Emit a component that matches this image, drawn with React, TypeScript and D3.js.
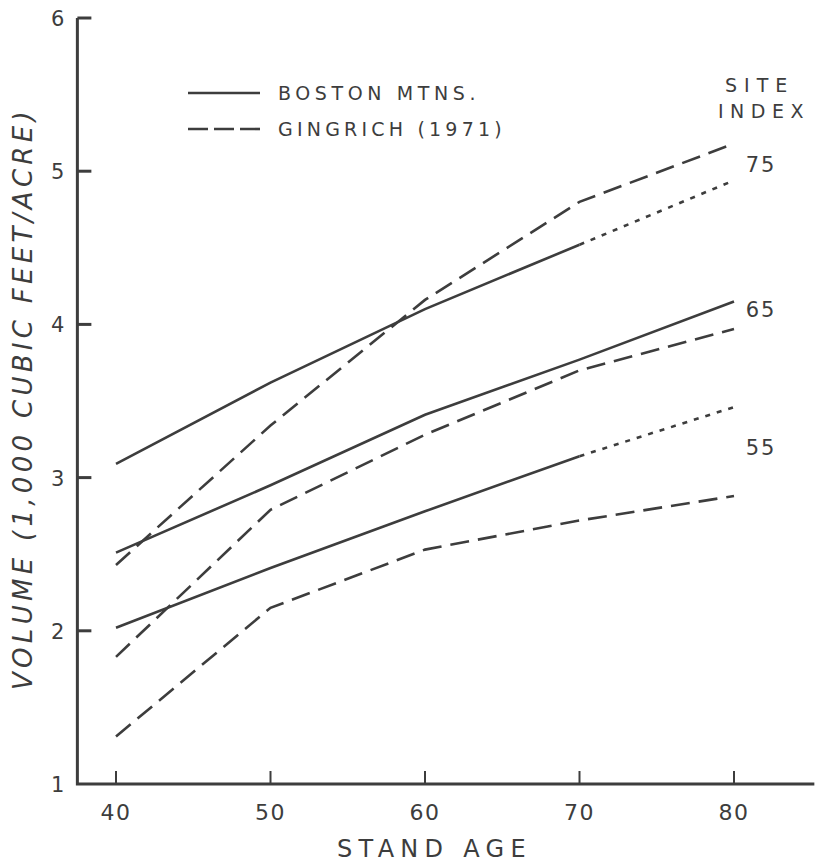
import React from 'react';
import * as d3 from 'd3';

// stand age (years)
const ages = [40, 50, 60, 70, 80];
const siteIndexes = ['75', '65', '55'];

// volume, thousand cubic feet per acre
const boston75 = [3.09, 3.62, 4.10, 4.52, 4.94];
const boston65 = [2.51, 2.95, 3.41, 3.77, 4.15];
const boston55 = [2.02, 2.41, 2.78, 3.14, 3.46];
const gingrich75 = [2.43, 3.34, 4.16, 4.80, 5.18];
const gingrich65 = [1.83, 2.79, 3.28, 3.70, 3.97];
const gingrich55 = [1.31, 2.15, 2.53, 2.72, 2.88];

// boston curves go dotted past this age (extrapolated)
const bostonDottedFrom = [70, null, 70];

const yTicks = [1, 2, 3, 4, 5, 6];
const siteLabelValues = [5.05, 4.1, 3.2];

const INK = '#3d3d3d';
const FONT = '"DejaVu Sans", "Liberation Sans", sans-serif';

const width = 820, height = 863;

export default function App() {
  const x = d3.scaleLinear().domain([40, 80]).range([116, 734]);
  const y = d3.scaleLinear().domain([1, 6]).range([784, 18]);

  const line = d3.line<[number, number]>()
    .x(d => x(d[0]))
    .y(d => y(d[1]));

  const pts = (vals: number[]) => ages.map((a, i) => [a, vals[i]] as [number, number]);

  const boston = [boston75, boston65, boston55];
  const gingrich = [gingrich75, gingrich65, gingrich55];

  const xLeft = x(37.5), xRight = x(85.2);

  return (
    <svg width={width} height={height} style={{ position: 'absolute', left: 0, top: 0, background: '#fff' }}
      fontFamily={FONT}>
      {/* axes */}
      <path d={`M${xLeft},${y(6)} V${y(1)} H${xRight}`} fill="none" stroke={INK} strokeWidth={3} />
      {yTicks.slice(1).map(t => (
        <line key={t} x1={xLeft} x2={xLeft + 14} y1={y(t)} y2={y(t)} stroke={INK} strokeWidth={3} />
      ))}
      {yTicks.map(t => (
        <text key={t} x={xLeft - 13} y={y(t) + 8} textAnchor="end" fontSize={21} fill={INK}>{t}</text>
      ))}
      {ages.map(a => (
        <g key={a}>
          <line x1={x(a)} x2={x(a)} y1={y(1)} y2={y(1) - 13} stroke={INK} strokeWidth={2} />
          <text x={x(a)} y={y(1) + 36} textAnchor="middle" fontSize={22} fill={INK} letterSpacing={1.5}>{a}</text>
        </g>
      ))}
      <text x={337} y={857} fontSize={24} fill={INK} letterSpacing={6.3}>STAND AGE</text>
      <text transform={`translate(32,690) rotate(-90)`} fontSize={26} fontStyle="italic"
        fill={INK} letterSpacing={4.3}>VOLUME (1,000 CUBIC FEET/ACRE)</text>

      {/* gingrich (dashed) */}
      {gingrich.map((g, i) => (
        <path key={'g' + i} d={line(pts(g)) || ''} fill="none" stroke={INK} strokeWidth={2.6}
          strokeDasharray="19 9" />
      ))}

      {/* boston (solid, dotted where extrapolated) */}
      {boston.map((b, i) => {
        const p = pts(b);
        const cut = bostonDottedFrom[i];
        const solid = cut == null ? p : p.filter(d => d[0] <= cut);
        const dotted = cut == null ? [] : p.filter(d => d[0] >= cut);
        return (
          <g key={'b' + i}>
            <path d={line(solid) || ''} fill="none" stroke={INK} strokeWidth={2.6} />
            {dotted.length > 1 && (
              <path d={line(dotted) || ''} fill="none" stroke={INK} strokeWidth={2.6} strokeDasharray="5 7" />
            )}
          </g>
        );
      })}

      {/* legend */}
      <line x1={188} x2={260} y1={93} y2={93} stroke={INK} strokeWidth={2.6} />
      <text x={278} y={100} fontSize={19} fill={INK} letterSpacing={4.6}>BOSTON MTNS.</text>
      <line x1={188} x2={260} y1={129} y2={129} stroke={INK} strokeWidth={2.6} strokeDasharray="20 6" />
      <text x={278} y={136} fontSize={19} fill={INK} letterSpacing={4.2}>GINGRICH (1971)</text>

      {/* site index labels */}
      <text x={725} y={92} fontSize={19} fill={INK} letterSpacing={7}>SITE</text>
      <text x={718} y={118} fontSize={19} fill={INK} letterSpacing={6.5}>INDEX</text>
      {siteIndexes.map((s, i) => (
        <text key={s} x={761} y={y(siteLabelValues[i]) + 8} textAnchor="middle" fontSize={21} fill={INK}
          letterSpacing={2}>{s}</text>
      ))}
    </svg>
  );
}
